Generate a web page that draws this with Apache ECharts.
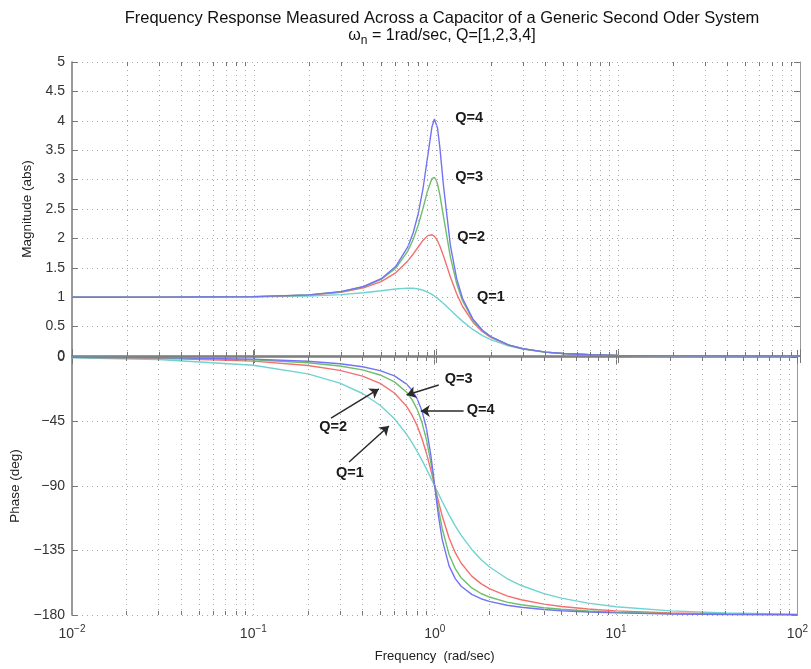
<!DOCTYPE html>
<html>
<head>
<meta charset="utf-8">
<script src="https://cdn.jsdelivr.net/npm/echarts@6/dist/echarts.min.js"></script>
<style>
html, body { margin: 0; padding: 0; background: #fff; }
#main { width: 811px; height: 669px; }
</style>
</head>
<body>
<div id="main"></div>
<script>
// frequencies (rad/sec)
var freq = [0.01, 0.03, 0.1, 0.2, 0.3, 0.4, 0.5, 0.6, 0.7, 0.75, 0.8, 0.85, 0.9, 0.95, 0.98, 1.0,
	1.02, 1.05, 1.1, 1.2, 1.3, 1.4, 1.6, 1.8, 2, 2.5, 3, 4, 5, 7, 10, 20, 40, 100];

// magnitude (abs)
var magQ1 = [1.0, 1.0005, 1.005, 1.0198, 1.0436, 1.0748, 1.1094, 1.1399, 1.1546, 1.1517, 1.1399, 1.1184, 1.0872, 1.0471, 1.0196, 1.0,
	0.9796, 0.9479, 0.8930, 0.7824, 0.6795, 0.5891, 0.4475, 0.3480, 0.2774, 0.1720, 0.1170, 0.0644, 0.0408, 0.0206, 0.0101, 0.0025, 0.0006, 0.0001];
var magQ2 = [1.0, 1.0009, 1.0088, 1.0361, 1.0843, 1.1581, 1.2649, 1.4148, 1.6167, 1.7354, 1.8582, 1.9702, 2.0472, 2.0623, 2.0342, 2.0,
	1.9547, 1.8695, 1.6986, 1.3440, 1.0549, 0.8417, 0.5704, 0.4142, 0.3162, 0.1853, 0.1229, 0.0661, 0.0414, 0.0208, 0.0101, 0.0025, 0.0006, 0.0001];
var magQ3 = [1.0, 1.0009, 1.0095, 1.0392, 1.0923, 1.1758, 1.3016, 1.4914, 1.7830, 1.9846, 2.2321, 2.5215, 2.8161, 3.0181, 3.0390, 3.0,
	2.9206, 2.7420, 2.3666, 1.6817, 1.2273, 0.9368, 0.6066, 0.4312, 0.3254, 0.1881, 0.1240, 0.0664, 0.0416, 0.0208, 0.0101, 0.0025, 0.0006, 0.0001];
var magQ4 = [1.0, 1.0009, 1.0098, 1.0403, 1.0952, 1.1821, 1.3152, 1.5213, 1.8546, 2.1009, 2.4282, 2.8611, 3.3957, 3.8951, 4.0294, 4.0,
	3.8732, 3.5486, 2.8901, 1.8778, 1.3111, 0.9787, 0.6209, 0.4377, 0.3288, 0.1891, 0.1245, 0.0665, 0.0416, 0.0208, 0.0101, 0.0025, 0.0006, 0.0001];

// phase (deg)
var phaseQ1 = [-0.57, -1.72, -5.77, -11.77, -18.24, -25.46, -33.69, -43.15, -53.92, -59.74, -65.77, -71.92, -78.08, -84.14, -87.69, -90,
	-92.27, -95.58, -100.81, -110.14, -117.96, -124.44, -134.27, -141.22, -146.31, -154.54, -159.44, -165.07, -168.23, -171.70, -174.23, -177.13, -178.57, -179.43];
var phaseQ2 = [-0.29, -0.86, -2.89, -5.95, -9.36, -13.39, -18.43, -25.11, -34.46, -40.60, -48.01, -56.86, -67.11, -78.40, -85.38, -90,
	-94.53, -101.05, -110.90, -126.25, -136.71, -143.90, -152.85, -158.11, -161.57, -166.61, -169.38, -172.41, -174.05, -175.83, -177.11, -178.56, -179.28, -179.71];
var phaseQ3 = [-0.19, -0.57, -1.93, -3.97, -6.27, -9.02, -12.53, -17.35, -24.59, -29.74, -36.53, -45.60, -57.65, -72.89, -83.09, -90,
	-96.78, -106.32, -119.80, -137.73, -147.87, -154.07, -161.13, -165.01, -167.47, -170.98, -172.87, -174.92, -176.03, -177.22, -178.07, -179.04, -179.52, -179.81];
var phaseQ4 = [-0.14, -0.43, -1.45, -2.98, -4.71, -6.79, -9.46, -13.19, -18.93, -23.20, -29.05, -37.45, -49.82, -67.68, -80.82, -90,
	-99.00, -111.33, -127.37, -145.71, -154.78, -159.97, -165.62, -168.64, -170.54, -173.21, -174.64, -176.19, -177.02, -177.91, -178.55, -179.28, -179.64, -179.86];

// log grid / ticks
var minorFreqs = [0.02, 0.03, 0.04, 0.05, 0.06, 0.07, 0.08, 0.09, 0.2, 0.3, 0.4, 0.5, 0.6, 0.7, 0.8, 0.9,
	2, 3, 4, 5, 6, 7, 8, 9, 20, 30, 40, 50, 60, 70, 80, 90];
var decadeFreqs = [0.1, 1, 10];

// annotations [text, freq, value]
var magLabels = [['Q=4', 1.52, 4.05], ['Q=3', 1.52, 3.04], ['Q=2', 1.56, 2.02], ['Q=1', 2.0, 1.0]];
var phaseLabels = [['Q=3', 1.355, -15.3], ['Q=4', 1.79, -37.0], ['Q=2', 0.275, -48.8], ['Q=1', 0.341, -80.9]];
// arrows [freqFrom, degFrom, freqTo, degTo]
var phaseArrows = [[1.052, -19.5, 0.701, -26.5], [1.443, -37.7, 0.838, -37.7], [0.268, -42.6, 0.492, -22.3], [0.337, -73.3, 0.559, -48.1]];

var colors = ['#6fd3d1', '#f46f6f', '#6cbf6c', '#7373f5'];
var font = 'Liberation Sans, Arial, sans-serif';
var dotted = { color: '#a8a8a8', width: 1, type: [1, 4] };

var chart = echarts.init(document.getElementById('main'));

function pairs(ys) {
	return freq.map(function (f, i) { return [f, ys[i]]; });
}

function vGrid() {
	return minorFreqs.concat(decadeFreqs).map(function (f) { return { xAxis: f }; });
}

function minorTicks(lo, hi, len) {
	var out = [];
	minorFreqs.forEach(function (f) {
		out.push([{ coord: [f, lo] }, { coord: [f, lo + len] }]);
		out.push([{ coord: [f, hi] }, { coord: [f, hi - len] }]);
	});
	return out;
}

function labelPoints(list) {
	return list.map(function (l) { return { name: l[0], coord: [l[1], l[2]] }; });
}

function xAxis(grid, pos, labels) {
	return {
		type: 'log', logBase: 10, gridIndex: grid, position: pos,
		min: 0.01, max: 100,
		axisLine: { show: true, lineStyle: { color: pos === 'bottom' ? '#777' : '#999', width: pos === 'bottom' ? 1.5 : 1 } },
		axisTick: { show: true, inside: true, length: 7, lineStyle: { color: '#777' } },
		splitLine: { show: false },
		axisLabel: labels ? {
			show: true, margin: 9, fontFamily: font, color: '#333',
			formatter: function (v) {
				var e = Math.round(Math.log(v) / Math.LN10);
				return '{b|10}{s|' + (e < 0 ? '\u2212' + (-e) : e) + '}';
			},
			rich: {
				b: { fontSize: 14, fontFamily: font, color: '#333' },
				s: { fontSize: 10, fontFamily: font, color: '#333', padding: [0, 0, 10, 0] }
			}
		} : { show: false },
		name: labels ? 'Frequency  (rad/sec)' : '',
		nameLocation: 'middle', nameGap: 35,
		nameTextStyle: { fontFamily: font, fontSize: 13, color: '#222' }
	};
}

function yAxis(grid, pos, min, max, interval, name, gap) {
	var left = pos === 'left';
	return {
		type: 'value', gridIndex: grid, position: pos,
		min: min, max: max, interval: interval,
		axisLine: { show: true, lineStyle: { color: left ? '#777' : '#999', width: left ? 1.5 : 1 } },
		axisTick: { show: true, inside: true, length: 6, lineStyle: { color: '#777' } },
		splitLine: { show: left, lineStyle: dotted },
		axisLabel: left ? {
			show: true, margin: 7, fontFamily: font, fontSize: 14, color: '#333',
			formatter: function (v) { return v < 0 ? '\u2212' + (-v) : String(v); }
		} : { show: false },
		name: left ? name : '',
		nameLocation: 'middle', nameGap: gap,
		nameTextStyle: { fontFamily: font, fontSize: 13.5, color: '#222' }
	};
}

var series = [];
var magData = [magQ1, magQ2, magQ3, magQ4];
var phaseData = [phaseQ1, phaseQ2, phaseQ3, phaseQ4];
var annoLabel = { show: true, position: 'inside', formatter: '{b}', fontFamily: font, fontSize: 14.5, fontWeight: 'bold', color: '#1a1a1a' };

magData.forEach(function (d, i) {
	var s = {
		type: 'line', xAxisIndex: 0, yAxisIndex: 0, data: pairs(d),
		symbol: 'none', smooth: false, silent: true,
		lineStyle: { color: colors[i], width: 1.4 }, itemStyle: { color: colors[i] }
	};
	if (i === 0) s.markLine = { silent: true, symbol: ['none', 'none'], label: { show: false }, lineStyle: dotted, data: vGrid() };
	if (i === 1) s.markLine = { silent: true, symbol: ['none', 'none'], label: { show: false }, lineStyle: { color: '#777', width: 1, type: 'solid' }, data: minorTicks(0, 5, 0.07) };
	if (i === 3) s.markPoint = { silent: true, symbol: 'circle', symbolSize: 1, itemStyle: { color: 'rgba(0,0,0,0)' }, label: annoLabel, data: labelPoints(magLabels) };
	series.push(s);
});

phaseData.forEach(function (d, i) {
	var s = {
		type: 'line', xAxisIndex: 2, yAxisIndex: 2, data: pairs(d),
		symbol: 'none', smooth: false, silent: true,
		lineStyle: { color: colors[i], width: 1.4 }, itemStyle: { color: colors[i] }
	};
	if (i === 0) s.markLine = { silent: true, symbol: ['none', 'none'], label: { show: false }, lineStyle: dotted, data: vGrid() };
	if (i === 1) s.markLine = { silent: true, symbol: ['none', 'none'], label: { show: false }, lineStyle: { color: '#777', width: 1, type: 'solid' }, data: minorTicks(-180, 0, 2.8) };
	if (i === 2) s.markLine = {
		silent: true, symbol: ['none', 'arrow'], symbolSize: 9, label: { show: false },
		lineStyle: { color: '#2a2a2a', width: 1.5, type: 'solid' },
		data: phaseArrows.map(function (a) { return [{ coord: [a[0], a[1]] }, { coord: [a[2], a[3]] }]; })
	};
	if (i === 3) s.markPoint = { silent: true, symbol: 'circle', symbolSize: 1, itemStyle: { color: 'rgba(0,0,0,0)' }, label: annoLabel, data: labelPoints(phaseLabels) };
	series.push(s);
});

chart.setOption({
	animation: false,
	backgroundColor: '#fff',
	title: {
		text: 'Frequency Response Measured Across a Capacitor of a Generic Second Oder System',
		subtext: '{a|\u03c9}{s|n}{a| = 1rad/sec, Q=[1,2,3,4]}',
		left: 437, top: 5, textAlign: 'center', itemGap: -3,
		textStyle: { fontFamily: font, fontSize: 16.5, fontWeight: 'normal', color: '#111' },
		subtextStyle: {
			fontFamily: font, fontSize: 16, color: '#111',
			rich: {
				a: { fontFamily: font, fontSize: 16, color: '#111' },
				s: { fontFamily: font, fontSize: 12, color: '#111', padding: [11, 0, 0, 0] }
			}
		}
	},
	grid: [
		{ left: 72, top: 62, width: 728, height: 294 },
		{ left: 72, top: 357, width: 728, height: 258 }
	],
	xAxis: [
		xAxis(0, 'bottom', false),
		xAxis(0, 'top', false),
		xAxis(1, 'bottom', true),
		xAxis(1, 'top', false)
	],
	yAxis: [
		yAxis(0, 'left', 0, 5, 0.5, 'Magnitude (abs)', 31),
		yAxis(0, 'right', 0, 5, 0.5, '', 0),
		yAxis(1, 'left', -180, 0, 45, 'Phase (deg)', 41),
		yAxis(1, 'right', -180, 0, 45, '', 0)
	],
	series: series
});
</script>
</body>
</html>
